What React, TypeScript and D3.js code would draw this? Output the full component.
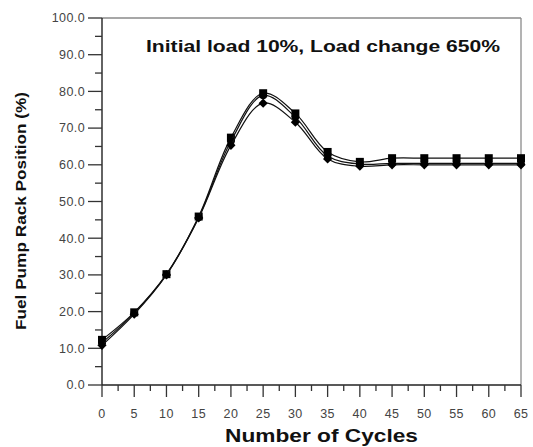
import React from 'react';
import * as d3 from 'd3';

const cycles = [0, 5, 10, 15, 20, 25, 30, 35, 40, 45, 50, 55, 60, 65];
const squareSeries = [12.3, 19.8, 30.2, 45.9, 67.4, 79.5, 74.0, 63.5, 60.8, 61.8, 61.8, 61.8, 61.8, 61.8];
const circleSeries = [11.5, 19.6, 30.1, 45.7, 66.4, 78.9, 73.0, 62.4, 60.2, 60.4, 60.4, 60.4, 60.4, 60.4];
const diamondSeries = [10.8, 19.3, 30.0, 45.5, 65.3, 76.8, 71.6, 61.6, 59.6, 60.0, 60.0, 60.0, 60.0, 60.0];
const yTicks = [0, 10, 20, 30, 40, 50, 60, 70, 80, 90, 100];
const xTicks = [0, 5, 10, 15, 20, 25, 30, 35, 40, 45, 50, 55, 60, 65];

const W = 533;
const H = 447;
const margin = { top: 18, right: 12, bottom: 62, left: 102 };

export default function App() {
  const x = d3.scaleLinear().domain([0, 65]).range([margin.left, W - margin.right]);
  const y = d3.scaleLinear().domain([0, 100]).range([H - margin.bottom, margin.top]);

  const line = d3
    .line<number>()
    .x((_, i) => x(cycles[i]))
    .y((d) => y(d))
    .curve(d3.curveCatmullRom.alpha(0.5));

  const yMinor = d3.range(5, 100, 10);
  const xMinor = d3.range(2.5, 65, 5);
  const x0 = x(0);
  const x1 = x(65);
  const y0 = y(0);
  const y1 = y(100);

  const series = [
    { data: squareSeries, shape: 'square' },
    { data: circleSeries, shape: 'circle' },
    { data: diamondSeries, shape: 'diamond' },
  ];

  const marker = (shape: string, cx: number, cy: number, key: string) => {
    if (shape === 'square') {
      return <rect key={key} x={cx - 4} y={cy - 4} width={8} height={8} fill="#000" />;
    }
    if (shape === 'circle') {
      return <circle key={key} cx={cx} cy={cy} r={3.8} fill="#000" />;
    }
    const s = 4.6;
    return (
      <path key={key} d={`M${cx},${cy - s}L${cx + s},${cy}L${cx},${cy + s}L${cx - s},${cy}Z`} fill="#000" />
    );
  };

  return (
    <svg
      width={W}
      height={H}
      style={{ position: 'absolute', left: 0, top: 0, background: '#fff' }}
      fontFamily="Arial, 'Liberation Sans', sans-serif"
    >
      {/* frame: top and right in gray */}
      <line x1={x0} x2={x1} y1={y1} y2={y1} stroke="#8a8a8a" strokeWidth={1.3} />
      <line x1={x1} x2={x1} y1={y1} y2={y0} stroke="#8a8a8a" strokeWidth={1.3} />

      {/* y axis */}
      <line x1={x0} x2={x0} y1={y1} y2={y0} stroke="#222" strokeWidth={1.4} />
      {yTicks.map((t) => (
        <g key={'yt' + t}>
          <line x1={x0 - 14} x2={x0} y1={y(t)} y2={y(t)} stroke="#333" strokeWidth={1.3} />
          <text x={x0 - 17} y={y(t)} dy="0.35em" textAnchor="end" fontSize={12.5} letterSpacing={0.4} fill="#444">
            {d3.format('.1f')(t)}
          </text>
        </g>
      ))}
      {yMinor.map((t) => (
        <line key={'ym' + t} x1={x0 - 7} x2={x0} y1={y(t)} y2={y(t)} stroke="#333" strokeWidth={1.3} />
      ))}

      {/* x axis */}
      <line x1={x0} x2={x1} y1={y0} y2={y0} stroke="#222" strokeWidth={1.4} />
      {xTicks.map((t) => (
        <g key={'xt' + t}>
          <line x1={x(t)} x2={x(t)} y1={y0} y2={y0 + 12} stroke="#333" strokeWidth={1.3} />
          <text x={x(t)} y={418} textAnchor="middle" fontSize={12.5} letterSpacing={0.4} fill="#444">
            {t}
          </text>
        </g>
      ))}
      {xMinor.map((t) => (
        <line key={'xm' + t} x1={x(t)} x2={x(t)} y1={y0} y2={y0 + 6} stroke="#333" strokeWidth={1.3} />
      ))}

      {/* series */}
      {series.map((s) => (
        <g key={s.shape}>
          <path d={line(s.data) || ''} fill="none" stroke="#111" strokeWidth={1.2} />
          {s.data.map((v, i) => marker(s.shape, x(cycles[i]), y(v), s.shape + i))}
        </g>
      ))}

      {/* annotation */}
      <text
        x={146}
        y={52}
        fontSize={16}
        fontWeight="bold"
        fill="#111"
        textLength={354}
        lengthAdjust="spacingAndGlyphs"
      >
        Initial load 10%, Load change 650%
      </text>

      {/* axis titles */}
      <text
        x={225}
        y={442}
        fontSize={18}
        fontWeight="bold"
        fill="#111"
        textLength={193}
        lengthAdjust="spacingAndGlyphs"
      >
        Number of Cycles
      </text>
      <text
        transform={`translate(26,330) rotate(-90)`}
        fontSize={15}
        fontWeight="bold"
        fill="#111"
        textLength={238}
        lengthAdjust="spacingAndGlyphs"
      >
        Fuel Pump Rack Position (%)
      </text>
    </svg>
  );
}
